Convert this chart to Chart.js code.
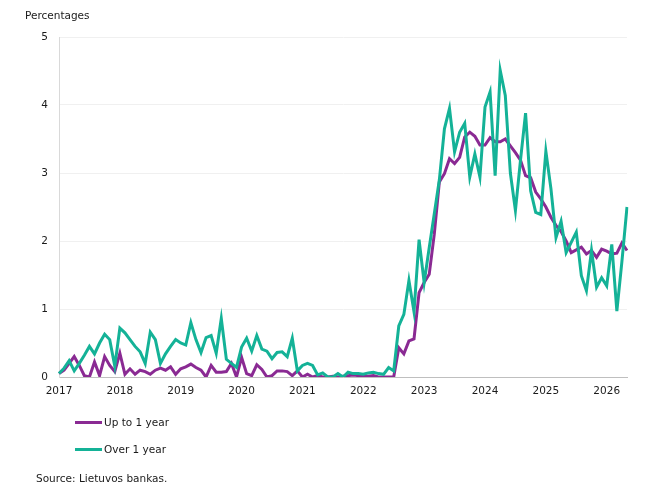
<!DOCTYPE html>
<html>
<head>
<meta charset="utf-8">
<script src="https://cdn.jsdelivr.net/npm/chart.js@4.4.1/dist/chart.umd.min.js"></script>
<style>
  body { margin: 0; background: #fff; }
  #wrap { position: relative; width: 650px; height: 500px; font-family: 'DejaVu Sans', sans-serif; color: #1a1a1a; }
  #rate-chart { position: absolute; left: 0; top: 0; }
  .txt { position: absolute; font-size: 10.5px; line-height: 12px; white-space: nowrap; }
  .leg-item { position: absolute; left: 75px; height: 12px; font-size: 10.5px; line-height: 12px; white-space: nowrap; }
  .leg-item i { position: absolute; left: 0; top: 5px; width: 27px; height: 3px; }
  .leg-item span { position: absolute; left: 29px; top: 0; }
</style>
</head>
<body>
<div id="wrap">
  <canvas id="rate-chart" width="650" height="500"></canvas>
  <div class="txt" style="left:25px; top:9px;">Percentages</div>
  <div id="legend"></div>
  <div class="txt" style="left:36px; top:472px;">Source: Lietuvos bankas.</div>
</div>
<script>
// monthly points, Jan 2017 .. May 2026
const years = [2017, 2018, 2019, 2020, 2021, 2022, 2023, 2024, 2025, 2026];
const seriesNames = ['Up to 1 year', 'Over 1 year'];
const seriesColors = ['#8a2a93', '#14b297'];

const upToOneYear = [
    0.05, 0.10, 0.20, 0.30, 0.17, 0.02, 0.00, 0.22, 0.02, 0.30, 0.17, 0.08,
    0.35, 0.04, 0.12, 0.04, 0.10, 0.08, 0.04, 0.10, 0.13, 0.10, 0.15, 0.04,
    0.12, 0.15, 0.19, 0.14, 0.10, 0.00, 0.17, 0.07, 0.07, 0.08, 0.20, 0.00,
    0.29, 0.05, 0.02, 0.18, 0.11, 0.00, 0.02, 0.09, 0.09, 0.08, 0.02, 0.09,
    0.00, 0.04, 0.00, 0.02, 0.00, 0.00, 0.01, 0.00, 0.01, 0.02, 0.03, 0.02,
    0.02, 0.01, 0.02, 0.00, 0.00, 0.00, 0.00, 0.43, 0.34, 0.53, 0.56, 1.24,
    1.39, 1.51, 2.10, 2.87, 2.99, 3.21, 3.14, 3.23, 3.53, 3.60, 3.54, 3.41,
    3.41, 3.52, 3.46, 3.46, 3.50, 3.40, 3.30, 3.19, 2.96, 2.93, 2.72, 2.62,
    2.50, 2.35, 2.23, 2.14, 2.00, 1.83, 1.87, 1.91, 1.81, 1.86, 1.76, 1.88,
    1.85, 1.81, 1.82, 1.97, 1.86
];
const overOneYear = [
    0.05, 0.13, 0.24, 0.09, 0.20, 0.32, 0.45, 0.34, 0.50, 0.63, 0.55, 0.16,
    0.72, 0.65, 0.55, 0.45, 0.37, 0.20, 0.66, 0.55, 0.20, 0.34, 0.45, 0.55,
    0.50, 0.47, 0.80, 0.55, 0.36, 0.58, 0.61, 0.35, 0.86, 0.26, 0.20, 0.14,
    0.44, 0.57, 0.38, 0.61, 0.41, 0.38, 0.27, 0.36, 0.37, 0.30, 0.57, 0.09,
    0.17, 0.20, 0.17, 0.03, 0.06, 0.00, 0.00, 0.05, 0.00, 0.07, 0.05, 0.05,
    0.04, 0.06, 0.07, 0.05, 0.04, 0.14, 0.09, 0.75, 0.92, 1.42, 0.96, 2.02,
    1.39, 1.90, 2.40, 2.90, 3.65, 3.95, 3.31, 3.60, 3.73, 2.94, 3.28, 2.94,
    3.97, 4.19, 2.96, 4.51, 4.14, 3.00, 2.45, 3.19, 3.88, 2.74, 2.42, 2.39,
    3.32, 2.77, 2.05, 2.29, 1.83, 1.98, 2.13, 1.49, 1.27, 1.86, 1.32, 1.46,
    1.34, 1.95, 0.97, 1.70, 2.50
];
const yTicks = [0, 1, 2, 3, 4, 5];

const labels = [];
years.forEach(y => {
    for (let m = 1; m <= 12; m++) labels.push(y + '-' + String(m).padStart(2, '0'));
});
labels.length = upToOneYear.length;

Chart.defaults.font.family = "'DejaVu Sans', sans-serif";
Chart.defaults.font.size = 10.5;
Chart.defaults.color = '#1a1a1a';

const ctx = document.getElementById('rate-chart').getContext('2d');
new Chart(ctx, {
    type: 'line',
    data: {
        labels: labels,
        datasets: [
            {
                label: seriesNames[0],
                data: upToOneYear,
                borderColor: seriesColors[0],
                borderWidth: 3,
                pointRadius: 0,
                tension: 0,
                order: 2,
            },
            {
                label: seriesNames[1],
                data: overOneYear,
                borderColor: seriesColors[1],
                borderWidth: 3,
                pointRadius: 0,
                tension: 0,
                order: 1,
            },
        ],
    },
    options: {
        responsive: false,
        animation: false,
        layout: { padding: { top: 37, right: 23, left: 0, bottom: 0 } },
        plugins: {
            legend: { display: false },
            tooltip: { enabled: false },
        },
        scales: {
            x: {
                grid: { display: false, drawTicks: false },
                border: { color: '#bfbfbf', width: 1 },
                ticks: {
                    autoSkip: false,
                    maxRotation: 0,
                    padding: 8,
                    callback: function (value, i) {
                        const lab = labels[i];
                        return lab.endsWith('-01') ? lab.slice(0, 4) : null;
                    },
                },
                afterFit: s => { s.height = 123; },
            },
            y: {
                min: 0,
                max: 5,
                afterBuildTicks: s => { s.ticks = yTicks.map(v => ({ value: v })); },
                grid: { color: '#f0f0f0', drawTicks: false },
                border: { color: '#d9d9d9' },
                ticks: { padding: 11 },
                afterFit: s => { s.width = 59; },
            },
        },
    },
});

// legend below the plot
const legend = document.getElementById('legend');
seriesNames.forEach((name, i) => {
    const item = document.createElement('div');
    item.className = 'leg-item';
    item.style.top = (416 + i * 27) + 'px';
    item.innerHTML = '<i style="background:' + seriesColors[i] + '"></i><span>' + name + '</span>';
    legend.appendChild(item);
});
</script>
</body>
</html>
